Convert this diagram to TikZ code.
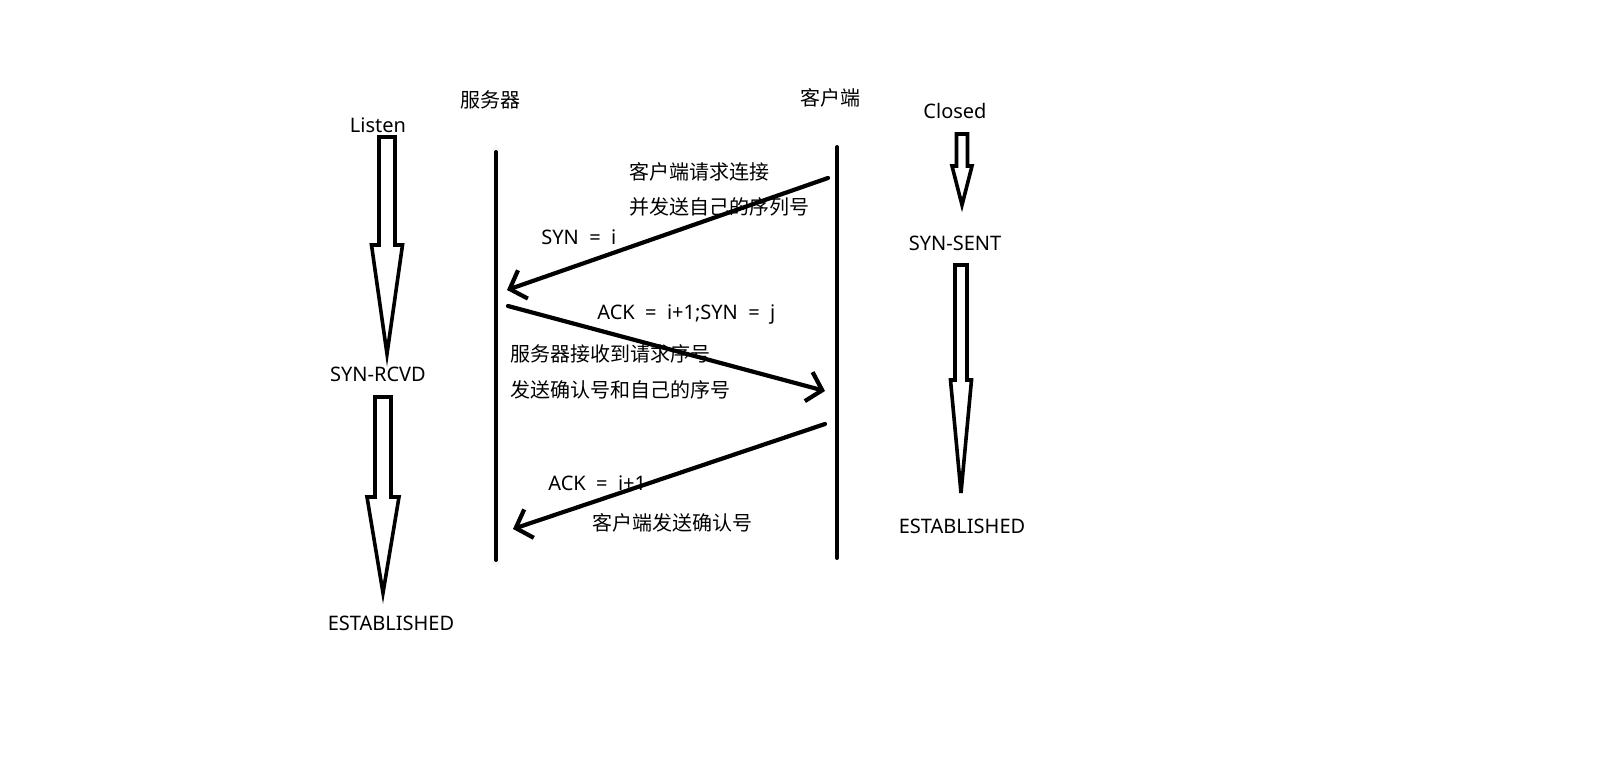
\documentclass[tikz,border=0pt]{standalone}
\usepackage{fontspec}
\setmainfont{Noto Sans}
\newfontfamily\cjk{Noto Sans CJK SC}
\usetikzlibrary{arrows.meta}

% hollow state arrow: x, top, head start, tip, shaft half width, head half width
\newcommand{\hollowarrow}[6]{%
  \draw[statearrow] ({#1-#5},#2) -- ({#1+#5},#2) -- ({#1+#5},#3) -- ({#1+#6},#3)
    -- (#1,#4) -- ({#1-#6},#3) -- ({#1-#5},#3) -- cycle;}

\begin{document}
\begin{tikzpicture}[x=0.5pt,y=-0.5pt,every node/.style={font=\fontsize{10}{12}\selectfont,inner sep=1pt},
  lifeline/.style={line width=2pt,line cap=round},
  statearrow/.style={line width=1.8pt,line join=miter},
  msg/.style={line width=2.1pt,line cap=round,-{Straight Barb[length=7pt,width=15pt,line width=2.1pt]}},
  cjklabel/.style={anchor=west,font=\cjk\fontsize{10}{12}\selectfont}]
\useasboundingbox (0,0) rectangle (1611,769);
% headers and states
\node (server) at (490,100) {\cjk 服务器};
\node (client) at (830,98) {\cjk 客户端};
\node (listen) at (378,125) {Listen};
\node (closed) at (955,111) {Closed};
\node (synrcvd) at (378,374) {SYN-RCVD};
\node (estl) at (391,623) {ESTABLISHED};
\node (synsent) at (955,243) {SYN-SENT};
\node (estr) at (962,526) {ESTABLISHED};
\hollowarrow{387}{137}{245}{354}{8}{15.5}
\hollowarrow{383}{397}{497}{593}{8}{16}
\hollowarrow{962}{134}{166}{205}{5.5}{10}
\hollowarrow{961}{265}{380}{493}{6}{10.5}
% lifelines
\coordinate (stop) at (496,152);
\coordinate (sbot) at (496,560);
\coordinate (ctop) at (837,147);
\coordinate (cbot) at (837,558);
\draw[lifeline] (stop) -- (sbot);
\draw[lifeline] (ctop) -- (cbot);
% message labels
\node[cjklabel] (req1) at (627,172) {客户端请求连接};
\node[cjklabel] (req2) at (627,207) {并发送自己的序列号};
\node[anchor=west] (syn) at (539,237) {SYN \ = \ i};
\node[anchor=west] (ackSyn) at (595,315) {ACK \ = \ i+1;SYN \ = \ j};
\node[cjklabel] (rep1) at (508,354) {服务器接收到请求序号};
\node[cjklabel] (rep2) at (508,390) {发送确认号和自己的序号};
\node[anchor=west] (ack) at (546,483) {ACK \ = \ i+1};
\node[cjklabel] (conf) at (590,523) {客户端发送确认号};
% messages
\coordinate (m1a) at (828,178);
\coordinate (m1b) at (507,290);
\coordinate (m2a) at (508,306);
\coordinate (m2b) at (825,391);
\coordinate (m3a) at (825,424);
\coordinate (m3b) at (513,529);
\draw[msg] (m1a) -- (m1b);
\draw[msg] (m2a) -- (m2b);
\draw[msg] (m3a) -- (m3b);
\end{tikzpicture}
\end{document}
